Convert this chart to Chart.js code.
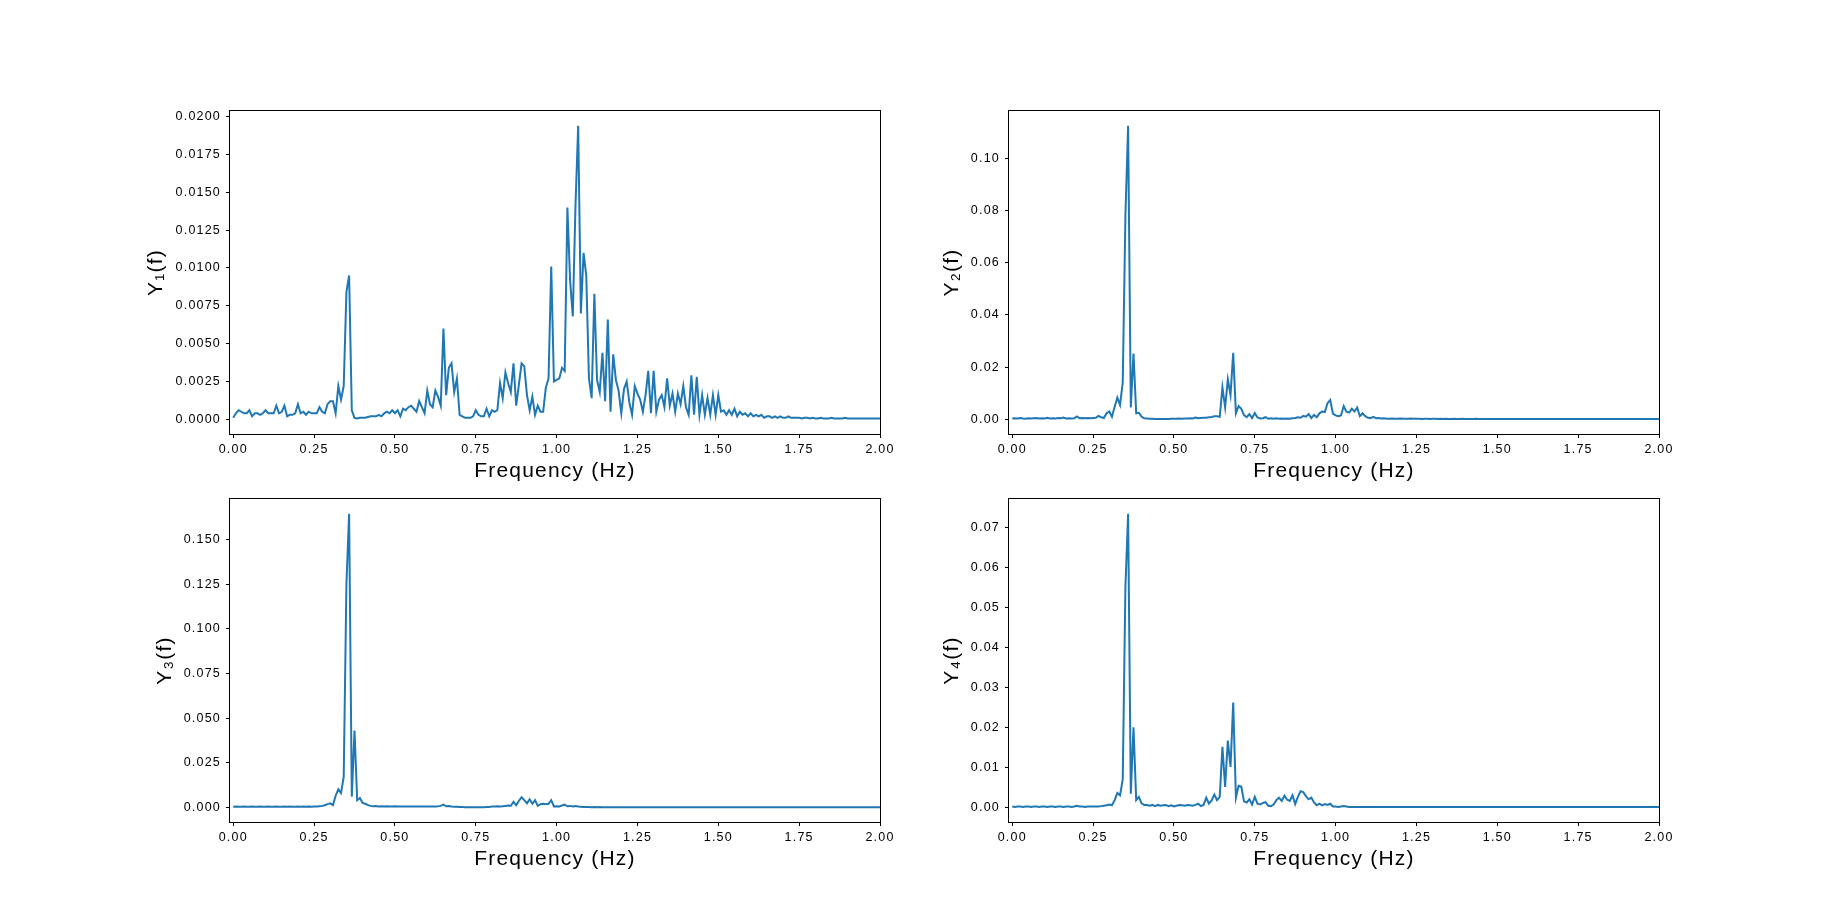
<!DOCTYPE html>
<html>
<head>
<meta charset="utf-8">
<script src="https://cdn.jsdelivr.net/npm/chart.js@4.4.1/dist/chart.umd.min.js"></script>
<style>
  body { margin: 0; background: #fff; width: 1843px; height: 924px; position: relative; overflow: hidden; }
  canvas { position: absolute; }
</style>
</head>
<body>
<canvas id="c1"></canvas>
<canvas id="c2"></canvas>
<canvas id="c3"></canvas>
<canvas id="c4"></canvas>
<script>
// spectrum sampled every 1/120 Hz, starting at 0 Hz
const freqStep = 1 / 120;
const xTicks = [0, 0.25, 0.5, 0.75, 1.0, 1.25, 1.5, 1.75, 2.0];

const y1 = [
  0.0001, 0.0004, 0.0006, 0.0005, 0.0004, 0.0004, 0.0006, 0.0002, 0.0004, 0.0004,
  0.0003, 0.0004, 0.0006, 0.0004, 0.0004, 0.0004, 0.0009, 0.0004, 0.0005, 0.0009,
  0.0002, 0.0003, 0.0003, 0.0004, 0.0010, 0.0004, 0.0005, 0.0003, 0.0005, 0.0004,
  0.0004, 0.0004, 0.0008, 0.0005, 0.0004, 0.0010, 0.0012, 0.0012, 0.0004, 0.0022,
  0.0013, 0.0022, 0.0084, 0.0095, 0.0006, 0.0001, 0.00005, 0.0001, 0.0001, 0.0001,
  0.00015, 0.0002, 0.0002, 0.0002, 0.0003, 0.0002, 0.0004, 0.0005, 0.0004, 0.0006,
  0.0004, 0.0006, 0.0002, 0.0007, 0.0006, 0.0008, 0.0009, 0.0007, 0.0005, 0.0012,
  0.0008, 0.0004, 0.0019, 0.0010, 0.0008, 0.0019, 0.0015, 0.0009, 0.0060, 0.0016,
  0.0034, 0.0037, 0.0018, 0.0027, 0.0003, 0.0002, 0.0001, 0.0001, 0.0001, 0.0002,
  0.0006, 0.0003, 0.0002, 0.0002, 0.0007, 0.0002, 0.0006, 0.0005, 0.0006, 0.0024,
  0.0014, 0.0031, 0.0024, 0.0018, 0.0037, 0.0009, 0.0023, 0.0037, 0.0035, 0.0016,
  0.0006, 0.0015, 0.0003, 0.0009, 0.0005, 0.0005, 0.0021, 0.0027, 0.0101, 0.0025,
  0.0026, 0.0027, 0.0034, 0.0032, 0.0140, 0.0092, 0.0068, 0.0141, 0.0194, 0.0070,
  0.0110, 0.0095, 0.0027, 0.0014, 0.0083, 0.0026, 0.0018, 0.0044, 0.0012, 0.0066,
  0.0005, 0.0043, 0.0026, 0.0019, 0.0004, 0.0020, 0.0025, 0.0011, 0.0003, 0.0022,
  0.0017, 0.0013, 0.0005, 0.0016, 0.0032, 0.0004, 0.0032, 0.0005, 0.0013, 0.0016,
  0.0008, 0.0027, 0.0009, 0.0017, 0.0005, 0.0017, 0.0010, 0.0022, 0.0008, 0.0003,
  0.0029, 0.0003, 0.0028, 0.0003, 0.0016, 0.0003, 0.0014, 0.0003, 0.0016, 0.0003,
  0.0016, 0.0005, 0.0006, 0.0003, 0.0006, 0.0003, 0.0007, 0.0002, 0.0005, 0.0003,
  0.0004, 0.0002, 0.0004, 0.0002, 0.0003, 0.0002, 0.0003, 0.0001, 0.0002, 0.0002,
  0.0001, 0.0002, 0.0001, 0.0002, 0.0001, 0.0001, 0.0002, 0.0001, 0.0001, 0.0001,
  0.0001, 0.00005, 0.0001, 0.0001, 0.00005, 0.0001, 0.00005, 0.00005, 0.0001, 0.00005,
  0.00005, 0.00005, 0.0001, 0.00005, 0.00005, 0.00005, 0.00005, 0.0001, 0.00005, 0.00005,
  0.00005, 0.00005, 0.00005, 0.00005, 0.00005, 0.00005, 0.00005, 0.00005, 0.00005, 0.00005,
  0.00005, 0.00005, 0.00005, 0.00005, 0.00005, 0.00005, 0.00005, 0.00005, 0.00005, 0.00005
];

const y2 = [
  0.0003, 0.0004, 0.0003, 0.0005, 0.0003, 0.0002, 0.0004, 0.0003, 0.0004, 0.0005,
  0.0003, 0.0004, 0.0003, 0.0006, 0.0003, 0.0004, 0.0003, 0.0005, 0.0004, 0.0007,
  0.0003, 0.0004, 0.0003, 0.0004, 0.0011, 0.0004, 0.0005, 0.0004, 0.0005, 0.0004,
  0.0005, 0.0006, 0.0013, 0.0008, 0.0005, 0.0023, 0.0030, 0.0010, 0.0048, 0.0083,
  0.0055, 0.0140, 0.0780, 0.1125, 0.0045, 0.0252, 0.0023, 0.0025, 0.0010, 0.0004,
  0.0003, 0.0002, 0.0002, 0.0001, 0.0001, 0.0001, 0.0001, 0.0001, 0.0001, 0.0002,
  0.0002, 0.0002, 0.0003, 0.0002, 0.0003, 0.0003, 0.0004, 0.0003, 0.0007, 0.0004,
  0.0005, 0.0006, 0.0006, 0.0008, 0.0009, 0.0012, 0.0012, 0.0010, 0.0122, 0.0046,
  0.0153, 0.0093, 0.0255, 0.0023, 0.0051, 0.0040, 0.0016, 0.0008, 0.0020, 0.0005,
  0.0024, 0.0007, 0.0003, 0.0004, 0.0008, 0.0002, 0.0004, 0.0002, 0.0004, 0.0002,
  0.0003, 0.0002, 0.0003, 0.0002, 0.0004, 0.0005, 0.0008, 0.0006, 0.0013, 0.0010,
  0.0020, 0.0005, 0.0017, 0.0008, 0.0023, 0.0030, 0.0028, 0.0062, 0.0074, 0.0022,
  0.0015, 0.0012, 0.0015, 0.0051, 0.0029, 0.0026, 0.0040, 0.0030, 0.0045, 0.0012,
  0.0023, 0.0012, 0.0006, 0.0004, 0.0009, 0.0004, 0.0005, 0.0003, 0.0004, 0.0002,
  0.0002, 0.0003, 0.0002, 0.0002, 0.0003, 0.0002, 0.0002, 0.0002, 0.0003, 0.0002,
  0.0002, 0.0002, 0.0001, 0.0002, 0.0002, 0.0001, 0.0002, 0.0002, 0.0001, 0.0002,
  0.0001, 0.0002, 0.0001, 0.0001, 0.0002, 0.0001, 0.0001, 0.0002, 0.0001, 0.0001,
  0.0001, 0.0001, 0.0002, 0.0001, 0.0001, 0.0001, 0.0001, 0.0001, 0.0001, 0.0001,
  0.0001, 0.0001, 0.0001, 0.0001, 0.0001, 0.0001, 0.0001, 0.0001, 0.0001, 0.0001,
  0.0001, 0.0001, 0.0001, 0.0001, 0.0001, 0.0001, 0.0001, 0.0001, 0.0001, 0.0001,
  0.0001, 0.0001, 0.0001, 0.0001, 0.0001, 0.0001, 0.0001, 0.0001, 0.0001, 0.0001,
  0.0001, 0.0001, 0.0001, 0.0001, 0.0001, 0.0001, 0.0001, 0.0001, 0.0001, 0.0001,
  0.0001, 0.0001, 0.0001, 0.0001, 0.0001, 0.0001, 0.0001, 0.0001, 0.0001, 0.0001,
  0.0001, 0.0001, 0.0001, 0.0001, 0.0001, 0.0001, 0.0001, 0.0001, 0.0001, 0.0001,
  0.0001, 0.0001, 0.0001, 0.0001, 0.0001, 0.0001, 0.0001, 0.0001, 0.0001, 0.0001
];

const y3 = [
  0.0003, 0.0004, 0.0003, 0.0003, 0.0004, 0.0003, 0.0003, 0.0004, 0.0003, 0.0003,
  0.0004, 0.0003, 0.0003, 0.0004, 0.0003, 0.0003, 0.0004, 0.0003, 0.0003, 0.0004,
  0.0003, 0.0004, 0.0003, 0.0003, 0.0005, 0.0003, 0.0004, 0.0003, 0.0004, 0.0003,
  0.0004, 0.0004, 0.0006, 0.0008, 0.0012, 0.0018, 0.0022, 0.0012, 0.0065, 0.0101,
  0.0080, 0.0171, 0.1250, 0.1646, 0.0060, 0.0431, 0.0040, 0.0052, 0.0025, 0.0020,
  0.0012, 0.0008, 0.0006, 0.0007, 0.0005, 0.0006, 0.0004, 0.0006, 0.0005, 0.0004,
  0.0006, 0.0004, 0.0005, 0.0004, 0.0005, 0.0004, 0.0005, 0.0004, 0.0004, 0.0005,
  0.0004, 0.0004, 0.0005, 0.0004, 0.0004, 0.0005, 0.0006, 0.0008, 0.0015, 0.0006,
  0.0007, 0.0004, 0.0003, 0.0003, 0.0002, 0.0002, 0.0001, 0.0001, 0.0001, 0.0001,
  0.0001, 0.0001, 0.0001, 0.0001, 0.0002, 0.0002, 0.0004, 0.0005, 0.0006, 0.0005,
  0.0006, 0.0008, 0.0010, 0.0009, 0.0030, 0.0012, 0.0037, 0.0056, 0.0040, 0.0022,
  0.0045, 0.0020, 0.0040, 0.0008, 0.0018, 0.0020, 0.0017, 0.0020, 0.0040, 0.0005,
  0.0006, 0.0005, 0.0010, 0.0015, 0.0006, 0.0008, 0.0005, 0.0007, 0.0004, 0.0003,
  0.0002, 0.0002, 0.0002, 0.0001, 0.0002, 0.0001, 0.0002, 0.0001, 0.0001, 0.0001,
  0.0001, 0.0001, 0.0001, 0.0001, 0.0001, 0.0001, 0.0001, 0.0001, 0.0001, 0.0001,
  0.0001, 0.0001, 0.0001, 0.0001, 0.0001, 0.0001, 0.0001, 0.0001, 0.0001, 0.0001,
  0.0001, 0.0001, 0.0001, 0.0001, 0.0001, 0.0001, 0.0001, 0.0001, 0.0001, 0.0001,
  0.0001, 0.0001, 0.0001, 0.0001, 0.0001, 0.0001, 0.0001, 0.0001, 0.0001, 0.0001,
  0.0001, 0.0001, 0.0001, 0.0001, 0.0001, 0.0001, 0.0001, 0.0001, 0.0001, 0.0001,
  0.0001, 0.0001, 0.0001, 0.0001, 0.0001, 0.0001, 0.0001, 0.0001, 0.0001, 0.0001,
  0.0001, 0.0001, 0.0001, 0.0001, 0.0001, 0.0001, 0.0001, 0.0001, 0.0001, 0.0001,
  0.0001, 0.0001, 0.0001, 0.0001, 0.0001, 0.0001, 0.0001, 0.0001, 0.0001, 0.0001,
  0.0001, 0.0001, 0.0001, 0.0001, 0.0001, 0.0001, 0.0001, 0.0001, 0.0001, 0.0001,
  0.0001, 0.0001, 0.0001, 0.0001, 0.0001, 0.0001, 0.0001, 0.0001, 0.0001, 0.0001,
  0.0001, 0.0001, 0.0001, 0.0001, 0.0001, 0.0001, 0.0001, 0.0001, 0.0001, 0.0001
];

const y4 = [
  0.0002, 0.0001, 0.0002, 0.0002, 0.0001, 0.0002, 0.0002, 0.0001, 0.0002, 0.0002,
  0.0001, 0.0002, 0.0002, 0.0001, 0.0002, 0.0002, 0.0001, 0.0002, 0.0002, 0.0001,
  0.0002, 0.0002, 0.0001, 0.0002, 0.0004, 0.0002, 0.0002, 0.0001, 0.0002, 0.0002,
  0.0002, 0.0002, 0.0002, 0.0003, 0.0004, 0.0005, 0.0007, 0.0005, 0.0018, 0.0036,
  0.0030, 0.0070, 0.0550, 0.0734, 0.0034, 0.0200, 0.0018, 0.0026, 0.0010, 0.0006,
  0.0006, 0.0004, 0.0006, 0.0003, 0.0006, 0.0004, 0.0005, 0.0006, 0.0003, 0.0005,
  0.0002, 0.0004, 0.0006, 0.0005, 0.0004, 0.0006, 0.0005, 0.0004, 0.0006, 0.0009,
  0.0003, 0.0006, 0.0024, 0.0009, 0.0017, 0.0032, 0.0018, 0.0026, 0.0151, 0.0051,
  0.0167, 0.0101, 0.0262, 0.0024, 0.0054, 0.0052, 0.0015, 0.0012, 0.0020, 0.0007,
  0.0026, 0.0009, 0.0007, 0.0011, 0.0013, 0.0004, 0.0003, 0.0007, 0.0018, 0.0024,
  0.0016, 0.0029, 0.0019, 0.0016, 0.0030, 0.0008, 0.0026, 0.0040, 0.0038, 0.0028,
  0.0020, 0.0024, 0.0012, 0.0005, 0.0009, 0.0005, 0.0008, 0.0006, 0.0009, 0.0002,
  0.0002, 0.0001, 0.0002, 0.0003, 0.0002, 0.0001, 0.0001, 0.0001, 0.0001, 0.0001,
  0.0001, 0.0001, 0.0001, 0.0001, 0.0001, 0.0001, 0.0001, 0.0001, 0.0001, 0.0001,
  0.0001, 0.0001, 0.0001, 0.0001, 0.0001, 0.0001, 0.0001, 0.0001, 0.0001, 0.0001,
  0.0001, 0.0001, 0.0001, 0.0001, 0.0001, 0.0001, 0.0001, 0.0001, 0.0001, 0.0001,
  0.0001, 0.0001, 0.0001, 0.0001, 0.0001, 0.0001, 0.0001, 0.0001, 0.0001, 0.0001,
  0.0001, 0.0001, 0.0001, 0.0001, 0.0001, 0.0001, 0.0001, 0.0001, 0.0001, 0.0001,
  0.0001, 0.0001, 0.0001, 0.0001, 0.0001, 0.0001, 0.0001, 0.0001, 0.0001, 0.0001,
  0.0001, 0.0001, 0.0001, 0.0001, 0.0001, 0.0001, 0.0001, 0.0001, 0.0001, 0.0001,
  0.0001, 0.0001, 0.0001, 0.0001, 0.0001, 0.0001, 0.0001, 0.0001, 0.0001, 0.0001,
  0.0001, 0.0001, 0.0001, 0.0001, 0.0001, 0.0001, 0.0001, 0.0001, 0.0001, 0.0001,
  0.0001, 0.0001, 0.0001, 0.0001, 0.0001, 0.0001, 0.0001, 0.0001, 0.0001, 0.0001,
  0.0001, 0.0001, 0.0001, 0.0001, 0.0001, 0.0001, 0.0001, 0.0001, 0.0001, 0.0001,
  0.0001, 0.0001, 0.0001, 0.0001, 0.0001, 0.0001, 0.0001, 0.0001, 0.0001, 0.0001
];

const yTicks1 = [0, 0.0025, 0.005, 0.0075, 0.01, 0.0125, 0.015, 0.0175, 0.02];
const yTicks2 = [0, 0.02, 0.04, 0.06, 0.08, 0.10];
const yTicks3 = [0, 0.025, 0.05, 0.075, 0.1, 0.125, 0.15];
const yTicks4 = [0, 0.01, 0.02, 0.03, 0.04, 0.05, 0.06, 0.07];

const xTitle = 'Frequency (Hz)';
const yTitles = ['Y\u2081(f)', 'Y\u2082(f)', 'Y\u2083(f)', 'Y\u2084(f)'];

// axes boxes in page pixels: left, top, width, height; labelGap = distance of y title centre from the axis
const panels = [
  { id: 'c1', values: y1, ticks: yTicks1, digits: 4, title: yTitles[0], box: [230, 111, 650, 323], labelGap: 74 },
  { id: 'c2', values: y2, ticks: yTicks2, digits: 2, title: yTitles[1], box: [1009, 111, 650, 323], labelGap: 57 },
  { id: 'c3', values: y3, ticks: yTicks3, digits: 3, title: yTitles[2], box: [230, 499, 650, 323], labelGap: 65 },
  { id: 'c4', values: y4, ticks: yTicks4, digits: 2, title: yTitles[3], box: [1009, 499, 650, 323], labelGap: 57 }
];

const FONT = '"Liberation Sans", Arial, Helvetica, sans-serif';
const YW = 120, XH = 70, PT = 20, PR = 30;

const framePlugin = {
  id: 'frame',
  beforeDraw(chart) {
    chart.ctx.letterSpacing = '1.2px';
  },
  afterDraw(chart) {
    const { ctx, chartArea: a } = chart;
    ctx.save();
    ctx.strokeStyle = '#000';
    ctx.lineWidth = 1;
    ctx.strokeRect(a.left - 0.5, a.top - 0.5, a.right - a.left + 1, a.bottom - a.top + 1);
    ctx.restore();
  }
};

panels.forEach(p => {
  const [l, t, w, h] = p.box;
  const cv = document.getElementById(p.id);
  cv.width = YW + w + PR;
  cv.height = PT + h + XH;
  cv.style.left = (l - YW) + 'px';
  cv.style.top = (t - PT) + 'px';

  const maxV = Math.max(...p.values);
  const points = p.values.map((v, i) => ({ x: i * freqStep, y: v }));

  new Chart(cv, {
    type: 'line',
    data: {
      datasets: [{
        data: points,
        borderColor: '#1f77b4',
        borderWidth: 2,
        pointRadius: 0,
        tension: 0,
        fill: false
      }]
    },
    options: {
      responsive: false,
      animation: false,
      events: [],
      layout: { padding: { top: PT, right: PR, left: 0, bottom: 0 } },
      plugins: { legend: { display: false }, tooltip: { enabled: false } },
      scales: {
        x: {
          type: 'linear',
          min: -0.01,
          max: 2.0,
          afterBuildTicks: s => { s.ticks = xTicks.map(v => ({ value: v })); },
          afterFit: s => { s.height = XH; s.paddingLeft = 0; s.paddingRight = 0; },
          grid: { drawOnChartArea: false, drawTicks: true, tickLength: 4, color: '#000', lineWidth: 1 },
          border: { display: false },
          ticks: {
            color: '#000', padding: 4, maxRotation: 0, autoSkip: false,
            font: { family: FONT, size: 12.5 },
            callback: v => v.toFixed(2)
          },
          title: {
            display: true, text: xTitle, color: '#000',
            font: { family: FONT, size: 21 },
            padding: { top: 0, bottom: XH - 37.7 - 12.6 }
          }
        },
        y: {
          type: 'linear',
          min: -0.05 * maxV,
          max: 1.05 * maxV,
          afterBuildTicks: s => { s.ticks = p.ticks.map(v => ({ value: v })); },
          afterFit: s => { s.width = YW; s.paddingTop = 0; s.paddingBottom = 0; },
          grid: { drawOnChartArea: false, drawTicks: true, tickLength: 4, color: '#000', lineWidth: 1 },
          border: { display: false },
          ticks: {
            color: '#000', padding: 5, autoSkip: false,
            font: { family: FONT, size: 12.5 },
            callback: v => v.toFixed(p.digits)
          },
          title: {
            display: true, text: p.title, color: '#000',
            font: { family: FONT, size: 21 },
            padding: { top: YW - p.labelGap - 12.6, bottom: 0 }
          }
        }
      }
    },
    plugins: [framePlugin]
  });
});
</script>
</body>
</html>
